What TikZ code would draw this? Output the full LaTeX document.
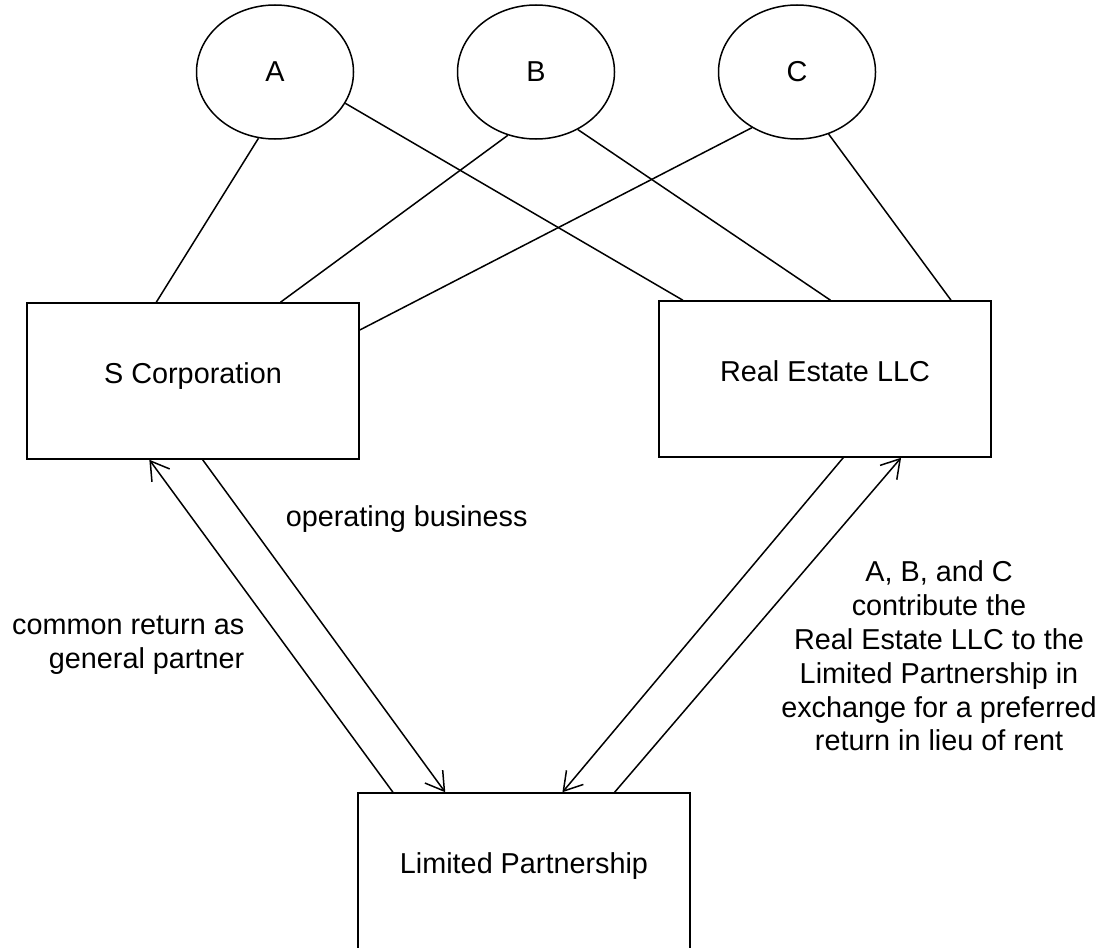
\documentclass[tikz,border=0pt]{standalone}
\usepackage{fontspec}
\setmainfont{Liberation Sans}
\usetikzlibrary{arrows.meta,shapes.geometric}

\begin{document}
\begin{tikzpicture}[x=0.5pt, y=-0.5pt, >={Straight Barb[length=9pt,width=11pt]},
    node distance=130.5pt, line width=0.75pt,
    font=\fontsize{14.4pt}{16.9pt}\selectfont,
    owner/.style={draw, ellipse, minimum width=78.5pt, minimum height=67pt},
    entity/.style={draw, minimum width=166pt, minimum height=78pt, text height=10.5pt, text depth=8pt},
    note/.style={inner sep=0pt}]
    \useasboundingbox (0,0) rectangle (1106,947);

    \node (A) at (275,72) [owner] {A};
    \node (B) [owner, right of=A] {B};
    \node (C) [owner, right of=B] {C};

    \node (scorp) at (193,381) [entity] {S Corporation};
    \node (realestate) at (825,379) [entity] {Real Estate LLC};
    \node (lp) at (524,871) [entity] {Limited Partnership};

    % ownership lines
    \draw (A.-104) -- (scorp.115);
    \draw (A.-24) -- (realestate.151);
    \draw (B.-114) -- (scorp.42);
    \draw (B.-54) -- (realestate.86);
    \draw (C.-129) -- (scorp.17);
    \draw (C.-63) -- (realestate.32);

    % flows to and from the partnership
    \draw[->] (lp.149) -- (scorp.-119);
    \draw[->] (scorp.-83) -- (lp.135);
    \draw[->] (realestate.-77) -- (lp.64);
    \draw[->] (lp.41) -- (realestate.-46);

    \node (opbiz) at (285,519) [note, anchor=west] {operating business};
    \node (common) at (245,645) [note, anchor=east, align=right] {common return as\\general partner};
    \node (contrib) at (939,656) [note, align=center] {A, B, and C\\contribute the\\Real Estate LLC to the\\Limited Partnership in\\exchange for a preferred\\return in lieu of rent};
\end{tikzpicture}
\end{document}
